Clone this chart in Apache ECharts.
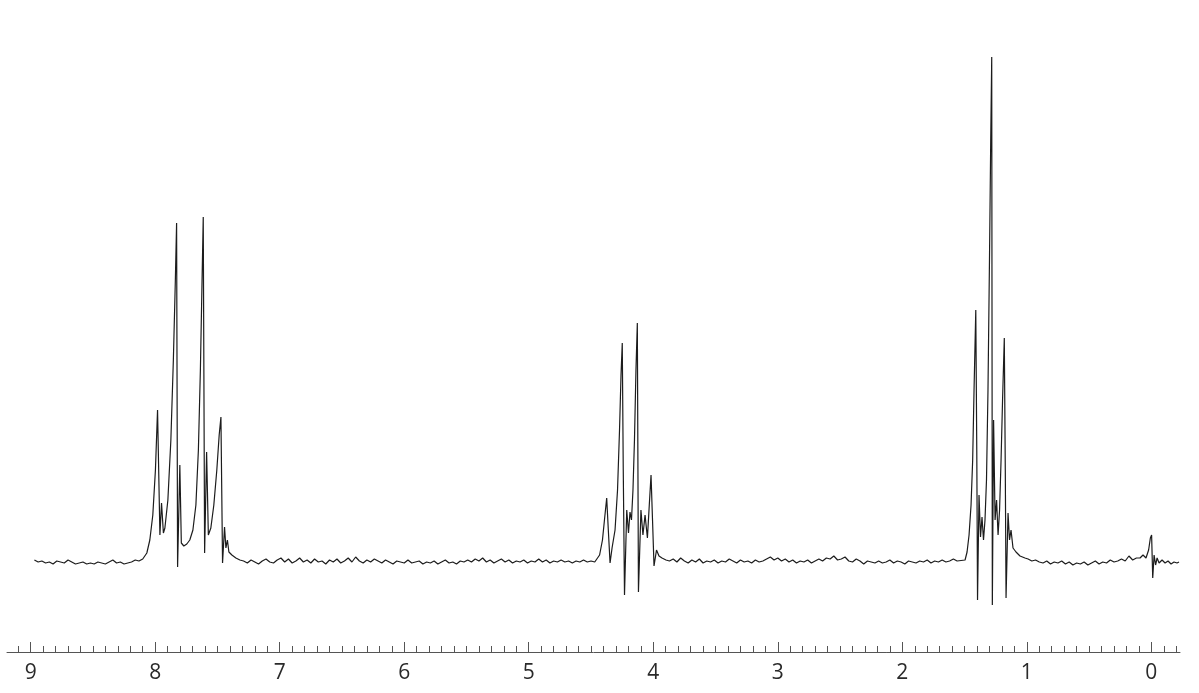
<!DOCTYPE html>
<html>
<head>
<meta charset="utf-8">
<style>
  html, body { margin: 0; padding: 0; background: #ffffff; }
  #chart { width: 1199px; height: 693px; }
</style>
<script src="https://cdn.jsdelivr.net/npm/echarts@6/dist/echarts.min.js"></script>
</head>
<body>
<div id="chart"></div>
<script>
// Chemical shift (ppm) of each traced point
const ppm = [
  8.97, 8.94, 8.91, 8.88, 8.85, 8.82, 8.79, 8.76, 8.73, 8.70, 8.67, 8.64, 8.61, 8.58, 8.55, 8.52,
  8.49, 8.46, 8.43, 8.40, 8.37, 8.34, 8.31, 8.28, 8.25, 8.22, 8.19, 8.16, 8.13, 8.10,
  8.067, 8.043, 8.019, 7.998, 7.981, 7.962, 7.949, 7.934, 7.922, 7.898, 7.874, 7.854, 7.838, 7.828,
  7.820, 7.802, 7.790, 7.770, 7.746, 7.722, 7.697, 7.673, 7.653, 7.637, 7.625, 7.614, 7.603, 7.587,
  7.573, 7.553, 7.529, 7.505, 7.486, 7.472, 7.459, 7.443, 7.432, 7.420, 7.408, 7.384, 7.352, 7.320,
  7.29, 7.26, 7.23, 7.20, 7.17, 7.14, 7.11, 7.08, 7.05, 7.02, 6.99, 6.96, 6.93, 6.90, 6.87, 6.84,
  6.81, 6.78, 6.75, 6.72, 6.69, 6.66, 6.63, 6.60, 6.57, 6.54, 6.51, 6.48, 6.45, 6.42, 6.39, 6.36,
  6.33, 6.30, 6.27, 6.24, 6.21, 6.18, 6.15, 6.12, 6.09, 6.06, 6.03, 6.00, 5.97, 5.94, 5.91, 5.88,
  5.85, 5.82, 5.79, 5.76, 5.73, 5.70, 5.67, 5.64, 5.61, 5.58, 5.55, 5.52, 5.49, 5.46, 5.43, 5.40,
  5.37, 5.34, 5.31, 5.28, 5.25, 5.22, 5.19, 5.16, 5.13, 5.10, 5.07, 5.04, 5.01, 4.98, 4.95, 4.92,
  4.89, 4.86, 4.83, 4.80, 4.77, 4.74, 4.71, 4.68, 4.65, 4.62, 4.59, 4.56, 4.53, 4.50, 4.47,
  4.431, 4.408, 4.392, 4.374, 4.361, 4.347, 4.331, 4.307, 4.287, 4.271, 4.259, 4.249, 4.241, 4.231,
  4.213, 4.199, 4.187, 4.175, 4.163, 4.151, 4.139, 4.128, 4.119, 4.099, 4.083, 4.066, 4.047, 4.032,
  4.018, 4.006, 3.994, 3.974, 3.954, 3.930, 3.898,
  3.87, 3.84, 3.81, 3.78, 3.75, 3.72, 3.69, 3.66, 3.63, 3.60, 3.57, 3.54, 3.51, 3.48, 3.45, 3.42,
  3.39, 3.36, 3.33, 3.30, 3.27, 3.24, 3.21, 3.18, 3.15, 3.12, 3.09, 3.06, 3.03, 3.00, 2.97, 2.94,
  2.91, 2.88, 2.85, 2.82, 2.79, 2.76, 2.73, 2.70, 2.67, 2.64, 2.61, 2.58, 2.55, 2.52, 2.49, 2.46,
  2.43, 2.40, 2.37, 2.34, 2.31, 2.28, 2.25, 2.22, 2.19, 2.16, 2.13, 2.10, 2.07, 2.04, 2.01, 1.98,
  1.95, 1.92, 1.89, 1.86, 1.83, 1.80, 1.77, 1.74, 1.71, 1.68, 1.65, 1.62, 1.59, 1.56,
  1.496, 1.480, 1.464, 1.448, 1.435, 1.424, 1.410, 1.402, 1.396, 1.384, 1.372, 1.360, 1.348, 1.336,
  1.324, 1.312, 1.300, 1.290, 1.282, 1.277, 1.267, 1.255, 1.243, 1.231, 1.219, 1.207, 1.195, 1.181,
  1.173, 1.167, 1.151, 1.139, 1.127, 1.111, 1.087, 1.055, 1.015,
  0.99, 0.96, 0.93, 0.90, 0.87, 0.84, 0.81, 0.78, 0.75, 0.72, 0.69, 0.66, 0.63, 0.60, 0.57, 0.54,
  0.51, 0.48, 0.45, 0.42, 0.39, 0.36, 0.33, 0.30, 0.27, 0.24, 0.21, 0.18, 0.15, 0.12,
  0.091, 0.067, 0.043, 0.022, 0.008, -0.002, -0.011, -0.022, -0.034, -0.046, -0.062, -0.086, -0.110,
  -0.134, -0.158, -0.182, -0.206, -0.222
];

// Signal intensity (arbitrary units) at each point
const intensity = [
  2, 0, 1, -1, 0, -2, 1, 0, -1, 2, 0, -2, -1, 0, -2, -1,
  -2, 0, -1, -2, 0, 2, -1, 0, -2, -1, 0, 2, 1, 3,
  9, 22, 47, 92, 152, 27, 59, 29, 34, 62, 122, 202, 282, 339,
  -5, 97, 19, 16, 18, 22, 32, 57, 112, 192, 272, 345, 9, 110,
  27, 34, 57, 92, 127, 145, -1, 35, 14, 22, 10, 7, 4, 2,
  1, -1, 2, 0, -2, 1, 3, 0, -1, 2, 4, 0, 3, -1, 1, 4,
  0, 2, -1, 3, 0, 1, -2, 2, 0, 3, -1, 1, 4, 0, 5, 1,
  -1, 2, 0, 3, 1, -1, 2, 0, -2, 1, 0, -1, 2, -1, 0, 1,
  -2, 0, -1, 1, -2, 0, 2, -1, 0, -2, 1, 0, 2, 0, 3, 1,
  4, 0, 2, -1, 1, 3, 0, 2, -1, 1, 0, 2, -1, 1, 0, 3,
  0, 2, -1, 1, 0, 2, 0, 1, -1, 1, 0, 2, 0, 1, 0,
  7, 22, 42, 64, 32, -1, 14, 32, 72, 132, 187, 219, 92, -33,
  52, 29, 50, 42, 72, 122, 192, 239, -30, 52, 27, 47, 24, 57,
  87, 42, -4, 12, 6, 4, 2,
  1, 3, 0, 4, 1, -1, 2, 0, 3, -1, 1, 0, 2, -1, 1, 0,
  3, 1, -1, 2, 0, 1, -1, 2, 0, 1, 3, 5, 2, 4, 1, 3,
  0, 2, -1, 1, 0, 2, -1, 1, 3, 1, 4, 3, 6, 2, 3, 5,
  1, 0, 3, 1, -2, 1, 0, -1, 1, -1, 0, 2, -1, 1, 0, -2,
  1, 0, -1, 1, 0, 2, -1, 1, 0, 2, 0, 1, 3, 1,
  2, 10, 27, 57, 102, 172, 252, 112, -38, 67, 25, 45, 22, 42,
  82, 172, 302, 422, 505, -43, 142, 42, 62, 27, 52, 102, 162, 224,
  92, -36, 49, 22, 32, 14, 10, 6, 4,
  3, 1, 2, 0, -1, 1, -2, 0, -1, 1, -2, 0, -3, -1, -2, 0,
  -3, -1, 1, -2, 0, -1, 2, 0, 1, 3, 1, 6, 2, 4,
  4, 7, 4, 12, 24, 27, -16, 7, -3, 4, -1, 2, -1,
  1, -2, 0, -1, 0
];

// Axis tick labels (ppm)
const majorTicks = [0, 1, 2, 3, 4, 5, 6, 7, 8, 9];
const minorTicks = [];
for (let i = -2; i <= 91; i++) {
  if (i % 10 !== 0) minorTicks.push(i / 10);
}

const points = ppm.map((p, i) => [p, intensity[i]]);

const chart = echarts.init(document.getElementById('chart'), null, { renderer: 'canvas' });
chart.setOption({
  animation: false,
  backgroundColor: '#ffffff',
  grid: { left: 7, right: 19, top: 0, bottom: 41, containLabel: false },
  xAxis: [
    {
      type: 'value',
      inverse: true,
      min: -0.23,
      max: 9.19,
      position: 'bottom',
      splitLine: { show: false },
      axisLine: { show: true, onZero: false, lineStyle: { color: '#555', width: 1 } },
      axisTick: { show: true, inside: true, length: 10, customValues: majorTicks, lineStyle: { color: '#555', width: 1 } },
      axisLabel: {
        show: true, customValues: majorTicks, margin: 11,
        fontFamily: 'Open Sans', fontSize: 21, color: '#2a2a2a',
        formatter: v => String(Math.round(v))
      }
    },
    {
      type: 'value',
      inverse: true,
      min: -0.23,
      max: 9.19,
      position: 'bottom',
      offset: 0,
      splitLine: { show: false },
      axisLine: { show: false, onZero: false },
      axisTick: { show: true, inside: true, length: 6, customValues: minorTicks, lineStyle: { color: '#555', width: 1 } },
      axisLabel: { show: false }
    }
  ],
  yAxis: {
    type: 'value',
    min: -90,
    max: 562,
    show: false
  },
  series: [{
    type: 'line',
    xAxisIndex: 0,
    data: points,
    showSymbol: false,
    symbol: 'none',
    smooth: false,
    lineStyle: { color: '#1c1c1c', width: 1.2 },
    silent: true
  }]
});
</script>
</body>
</html>
